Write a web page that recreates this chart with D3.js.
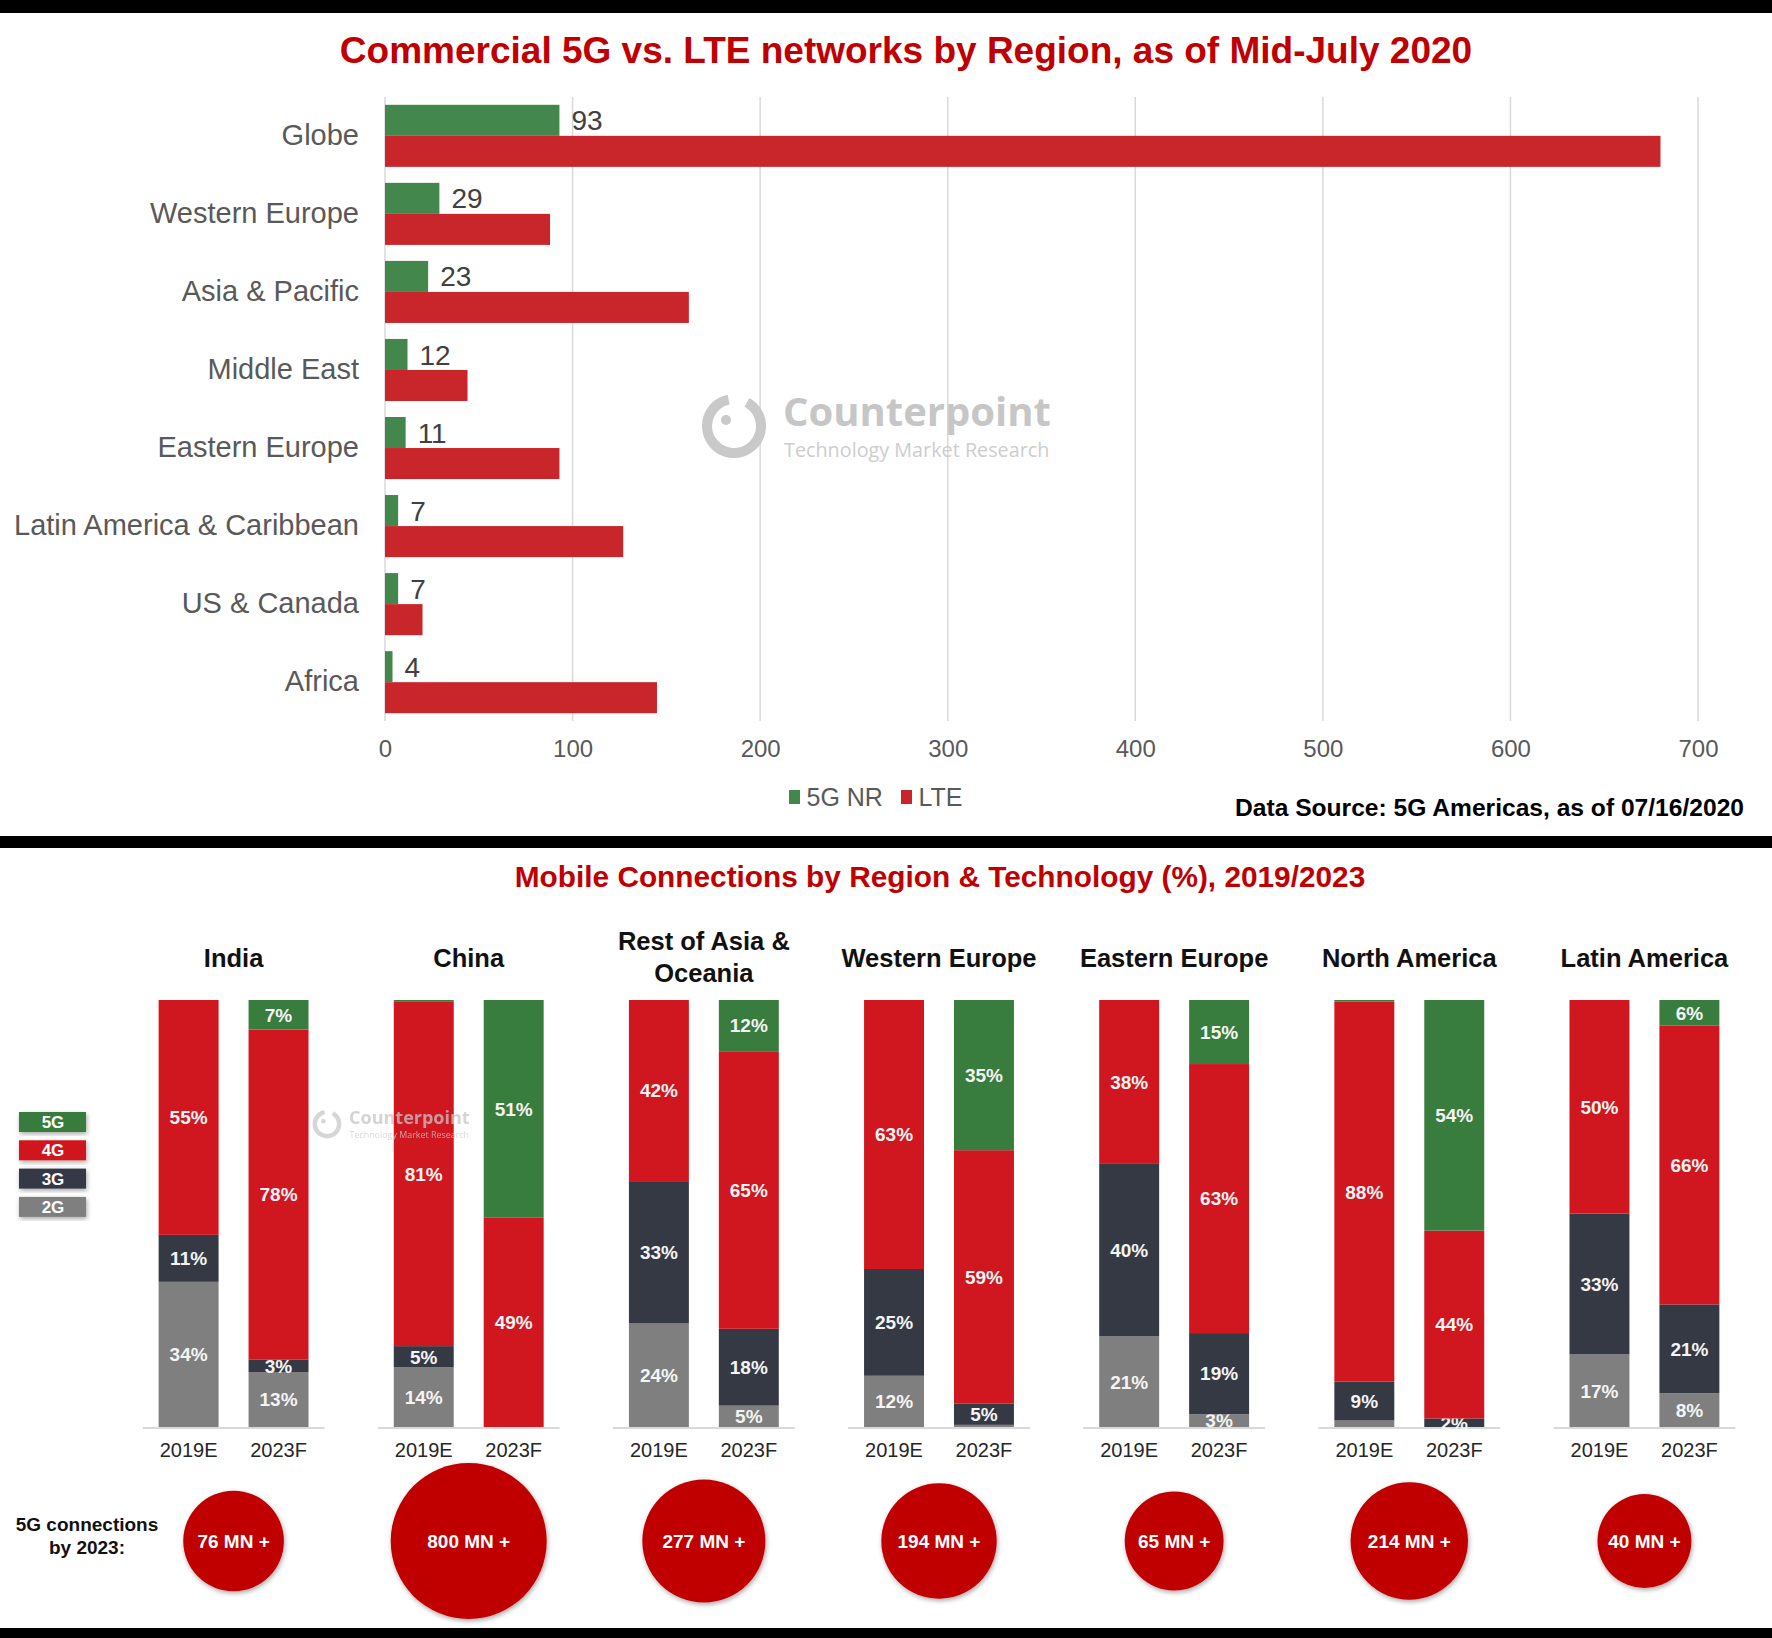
<!DOCTYPE html>
<html>
<head>
<meta charset="utf-8">
<script src="https://cdn.jsdelivr.net/npm/d3@7/dist/d3.min.js"></script>
<style>
	body { margin: 0; background: #fff; }
	svg { display: block; font-family: "Liberation Sans", Arial, sans-serif; }
</style>
</head>
<body>
<svg id="graphique" width="1772" height="1638"></svg>
<script>

// top chart : commercial networks
var regionsReseau = ["Globe", "Western Europe", "Asia & Pacific", "Middle East", "Eastern Europe", "Latin America & Caribbean", "US & Canada", "Africa"];
var series = ["5G NR", "LTE"];
var reseaux5G = [93, 29, 23, 12, 11, 7, 7, 4];
var reseauxLTE = [680, 88, 162, 44, 93, 127, 20, 145];
var ticksX = [0, 100, 200, 300, 400, 500, 600, 700];

// bottom chart : connections by technology (%)
var regionsConn = ["India", "China", "Rest of Asia &\nOceania", "Western Europe", "Eastern Europe", "North America", "Latin America"];
var annees = ["2019E", "2023F"];
var techs = ["2G", "3G", "4G", "5G"];
// one value per region and year : 2019E, 2023F, 2019E, 2023F ...
var part5G = [0, 7, 0.3, 51, 0, 12, 0, 35, 0, 15, 0.4, 54, 0, 6];
var part4G = [55, 78, 81, 49, 42, 65, 63, 59, 38, 63, 88, 44, 50, 66];
var part3G = [11, 3, 5, 0, 33, 18, 25, 5, 40, 19, 9, 2, 33, 21];
var part2G = [34, 13, 14, 0, 24, 5, 12, 0.5, 21, 3, 1.5, 0, 17, 8];
var connexions5G = [76, 800, 277, 194, 65, 214, 40];

var couleurs1 = {"5G NR": "#43874c", "LTE": "#c9262c"};
var couleurs2 = {"5G": "#387c3e", "4G": "#d0161f", "3G": "#353944", "2G": "#7f7f7f"};

var graphique = d3.select("#graphique");

graphique.append("rect").attr("width", 1772).attr("height", 1638).attr("fill", "#fff");

function watermark(g, x, y, k, opacity){
	var w = g.append("g")
		.attr("transform", "translate(" + x + "," + y + ") scale(" + k + ")")
		.attr("opacity", opacity);
	w.append("path")
		.attr("d", d3.arc().innerRadius(22).outerRadius(32).startAngle(0.5).endAngle(2 * Math.PI - 0.2)())
		.attr("fill", "#c9c9c9");
	w.append("circle").attr("cx", -8).attr("cy", -6).attr("r", 5).attr("fill", "#c9c9c9");
	w.append("text")
		.attr("x", 49).attr("y", 0)
		.attr("font-family", "'Open Sans', sans-serif")
		.attr("font-weight", "bold")
		.attr("font-size", 40)
		.attr("fill", "#c6c6c6")
		.text("Counterpoint");
	w.append("text")
		.attr("x", 50).attr("y", 31)
		.attr("font-family", "'Open Sans', sans-serif")
		.attr("font-size", 19.8)
		.attr("fill", "#cdcdcd")
		.text("Technology Market Research");
}

function constructBarChart(){
	var xScale = d3.scaleLinear().domain([0, 700]).range([385, 1698]);
	var yScale = d3.scaleBand().domain(regionsReseau).range([97, 721]).paddingInner(0.205).paddingOuter(0.1);
	var ySerie = d3.scaleBand().domain(series).range([0, yScale.bandwidth()]);

	graphique.append("text")
		.attr("x", 906).attr("y", 63)
		.attr("text-anchor", "middle")
		.attr("font-weight", "bold")
		.attr("font-size", 37)
		.attr("fill", "#c00000")
		.text("Commercial 5G vs. LTE networks by Region, as of Mid-July 2020");

	//// grille
	graphique.append("g").selectAll("line")
		.data(ticksX)
		.enter().append("line")
		.attr("x1", function(d){ return xScale(d); })
		.attr("x2", function(d){ return xScale(d); })
		.attr("y1", 97).attr("y2", 721)
		.attr("stroke", "#d9d9d9")
		.attr("stroke-width", 1.5);

	var xAxis = d3.axisBottom(xScale).tickValues(ticksX).tickSize(0).tickPadding(0);
	var gx = graphique.append("g")
		.attr("transform", "translate(0,740)")
		.call(xAxis);
	gx.select(".domain").remove();
	gx.selectAll("text")
		.attr("font-size", 24)
		.attr("fill", "#595959")
		.attr("font-family", "'Liberation Sans', Arial, sans-serif");

	var yAxis = d3.axisLeft(yScale).tickSize(0).tickPadding(0);
	var gy = graphique.append("g")
		.attr("transform", "translate(359,0)")
		.call(yAxis);
	gy.select(".domain").remove();
	gy.selectAll("text")
		.attr("font-size", 29)
		.attr("fill", "#595959")
		.attr("font-family", "'Liberation Sans', Arial, sans-serif");

	watermark(graphique, 734, 426, 1, 1);

	var lignes = regionsReseau.map(function(r, i){
		return {region: r, "5G NR": reseaux5G[i], "LTE": reseauxLTE[i]};
	});

	var groupes = graphique.append("g").selectAll("g")
		.data(lignes)
		.enter().append("g")
		.attr("transform", function(d){ return "translate(0," + yScale(d.region) + ")"; });

	groupes.selectAll("rect")
		.data(function(d){ return series.map(function(s){ return {serie: s, valeur: d[s]}; }); })
		.enter().append("rect")
		.attr("x", xScale(0))
		.attr("y", function(d){ return ySerie(d.serie); })
		.attr("width", function(d){ return xScale(d.valeur) - xScale(0); })
		.attr("height", ySerie.bandwidth())
		.attr("fill", function(d){ return couleurs1[d.serie]; });

	groupes.append("text")
		.attr("x", function(d){ return xScale(d["5G NR"]) + 12; })
		.attr("y", ySerie("5G NR") + ySerie.bandwidth() / 2)
		.attr("dy", "0.36em")
		.attr("font-size", 28)
		.attr("fill", "#404040")
		.text(function(d){ return d["5G NR"]; });

	//// legende
	var legendeX = [789, 901];
	series.forEach(function(s, i){
		graphique.append("rect")
			.attr("x", legendeX[i]).attr("y", 790)
			.attr("width", 11).attr("height", 14)
			.attr("fill", couleurs1[s]);
		graphique.append("text")
			.attr("x", legendeX[i] + 17.5).attr("y", 806)
			.attr("font-size", 25)
			.attr("fill", "#595959")
			.text(s);
	});

	graphique.append("text")
		.attr("x", 1744).attr("y", 816)
		.attr("text-anchor", "end")
		.attr("font-weight", "bold")
		.attr("font-size", 24.6)
		.attr("fill", "#000")
		.text("Data Source: 5G Americas, as of 07/16/2020");
}

function constructStackedChart(){
	var defs = graphique.append("defs");
	var ombre = defs.append("filter").attr("id", "ombre").attr("x", "-20%").attr("y", "-20%").attr("width", "140%").attr("height", "140%");
	ombre.append("feGaussianBlur").attr("in", "SourceAlpha").attr("stdDeviation", 2.5);
	ombre.append("feOffset").attr("dx", 1).attr("dy", 2).attr("result", "flou");
	ombre.append("feComponentTransfer").append("feFuncA").attr("type", "linear").attr("slope", 0.35);
	var merge = ombre.append("feMerge");
	merge.append("feMergeNode");
	merge.append("feMergeNode").attr("in", "SourceGraphic");

	var x0 = d3.scaleBand().domain(regionsConn).range([116, 1762]);
	var x1 = d3.scaleBand().domain(annees).range([0, x0.step()]).paddingInner(1 / 3).paddingOuter(0.474);
	var yScale = d3.scaleLinear().domain([0, 1]).range([1427, 1000]);
	var rScale = d3.scaleSqrt().domain([0, 800]).range([38, 78]);

	graphique.append("text")
		.attr("x", 940).attr("y", 887)
		.attr("text-anchor", "middle")
		.attr("font-weight", "bold")
		.attr("font-size", 29.8)
		.attr("fill", "#c00000")
		.text("Mobile Connections by Region & Technology (%), 2019/2023");

	var donnees = [];
	regionsConn.forEach(function(r, i){
		annees.forEach(function(a, j){
			var k = i * 2 + j;
			donnees.push({region: r, annee: a, "2G": part2G[k], "3G": part3G[k], "4G": part4G[k], "5G": part5G[k]});
		});
	});

	var pile = d3.stack().keys(techs).offset(d3.stackOffsetExpand)(donnees);

	var groupe = graphique.append("g");

	// lignes de base
	groupe.selectAll("line.base")
		.data(regionsConn)
		.enter().append("line")
		.attr("x1", function(r){ return x0(r) + x1("2019E") - 16; })
		.attr("x2", function(r){ return x0(r) + x1("2023F") + x1.bandwidth() + 16; })
		.attr("y1", 1428).attr("y2", 1428)
		.attr("stroke", "#d9d9d9")
		.attr("stroke-width", 2);

	pile.forEach(function(couche){
		var tech = couche.key;
		groupe.selectAll("rect.t" + tech)
			.data(couche)
			.enter().append("rect")
			.attr("x", function(d){ return x0(d.data.region) + x1(d.data.annee); })
			.attr("y", function(d){ return yScale(d[1]); })
			.attr("width", x1.bandwidth())
			.attr("height", function(d){ return yScale(d[0]) - yScale(d[1]); })
			.attr("fill", couleurs2[tech]);

		groupe.selectAll("text.t" + tech)
			.data(couche.filter(function(d){ return d.data[tech] >= 2; }))
			.enter().append("text")
			.attr("x", function(d){ return x0(d.data.region) + x1(d.data.annee) + x1.bandwidth() / 2; })
			.attr("y", function(d){ return yScale((d[0] + d[1]) / 2); })
			.attr("dy", "0.36em")
			.attr("text-anchor", "middle")
			.attr("font-weight", "bold")
			.attr("font-size", 19)
			.attr("fill", "#f4f4f4")
			.text(function(d){ return d.data[tech] + "%"; });
	});

	// annees
	groupe.selectAll("text.annee")
		.data(donnees)
		.enter().append("text")
		.attr("x", function(d){ return x0(d.region) + x1(d.annee) + x1.bandwidth() / 2; })
		.attr("y", 1457)
		.attr("text-anchor", "middle")
		.attr("font-size", 20)
		.attr("fill", "#262626")
		.text(function(d){ return d.annee; });

	// titres des regions
	regionsConn.forEach(function(r){
		var morceaux = r.split("\n");
		var t = groupe.append("text")
			.attr("x", x0(r) + x0.step() / 2)
			.attr("y", morceaux.length > 1 ? 950 : 967)
			.attr("text-anchor", "middle")
			.attr("font-weight", "bold")
			.attr("font-size", 25.5)
			.attr("fill", "#111");
		morceaux.forEach(function(m, i){
			t.append("tspan")
				.attr("x", x0(r) + x0.step() / 2)
				.attr("dy", i == 0 ? 0 : 32)
				.text(m);
		});
	});

	watermark(graphique, 327, 1124, 0.45, 0.75);

	// legende 5G / 4G / 3G / 2G
	techs.slice().reverse().forEach(function(t, i){
		graphique.append("rect")
			.attr("x", 19).attr("y", 1112 + i * 28.3)
			.attr("width", 67).attr("height", 20)
			.attr("fill", couleurs2[t])
			.attr("filter", "url(#ombre)");
		graphique.append("text")
			.attr("x", 53).attr("y", 1122 + i * 28.3)
			.attr("dy", "0.36em")
			.attr("text-anchor", "middle")
			.attr("font-weight", "bold")
			.attr("font-size", 17)
			.attr("fill", "#fff")
			.text(t);
	});

	// bulles 5G
	graphique.append("text")
		.attr("x", 87).attr("y", 1531)
		.attr("text-anchor", "middle")
		.attr("font-weight", "bold")
		.attr("font-size", 19)
		.attr("fill", "#111")
		.text("5G connections");
	graphique.append("text")
		.attr("x", 87).attr("y", 1554)
		.attr("text-anchor", "middle")
		.attr("font-weight", "bold")
		.attr("font-size", 19)
		.attr("fill", "#111")
		.text("by 2023:");

	var bulles = graphique.append("g").selectAll("g")
		.data(regionsConn.map(function(r, i){ return {region: r, valeur: connexions5G[i]}; }))
		.enter().append("g")
		.attr("transform", function(d){ return "translate(" + (x0(d.region) + x0.step() / 2) + ",1541)"; });

	bulles.append("circle")
		.attr("r", function(d){ return rScale(d.valeur); })
		.attr("fill", "#c00000")
		.attr("filter", "url(#ombre)");

	bulles.append("text")
		.attr("dy", "0.36em")
		.attr("text-anchor", "middle")
		.attr("font-weight", "bold")
		.attr("font-size", 19)
		.attr("fill", "#fff")
		.text(function(d){ return d.valeur + " MN +"; });
}

constructBarChart();
constructStackedChart();

// bandes noires
graphique.append("rect").attr("x", 0).attr("y", 0).attr("width", 1772).attr("height", 13).attr("fill", "#000");
graphique.append("rect").attr("x", 0).attr("y", 836).attr("width", 1772).attr("height", 12).attr("fill", "#000");
graphique.append("rect").attr("x", 0).attr("y", 1628).attr("width", 1772).attr("height", 10).attr("fill", "#000");

</script>
</body>
</html>
